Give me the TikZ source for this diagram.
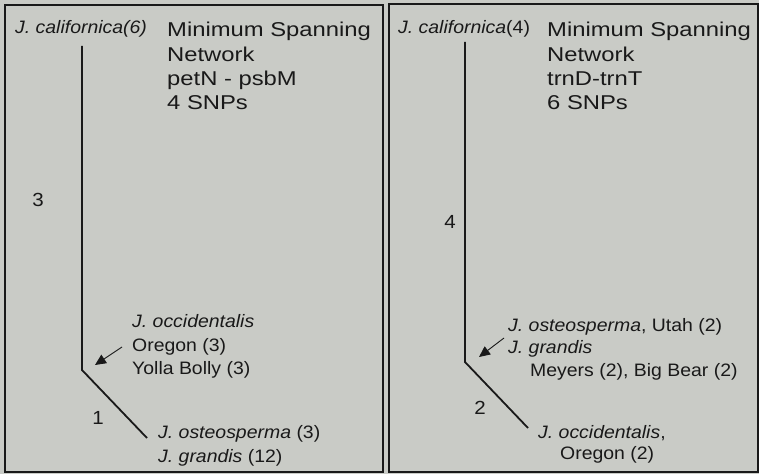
\documentclass[tikz,border=0pt]{standalone}
\usepackage{fontspec}
\setmainfont{Liberation Sans}[FakeStretch=1.08]
\newfontfamily\titlefont{Liberation Sans}[FakeStretch=1.19]
\usetikzlibrary{arrows.meta}
\definecolor{bg}{RGB}{201,203,198}
\definecolor{ink}{RGB}{25,25,25}
\tikzset{
  panel/.style={draw=ink, line width=1.6bp},
  lbl/.style={anchor=base west, inner sep=0pt, text=ink, font=\fontsize{18bp}{23bp}\selectfont},
  ttl/.style={anchor=base west, inner sep=0pt, text=ink,
    font=\titlefont\fontsize{20bp}{24.3bp}\selectfont},
  num/.style={inner sep=0pt, text=ink, font=\fontsize{19bp}{22bp}\selectfont},
  edge/.style={draw=ink, line width=1.8bp, line join=miter},
  pointer/.style={draw=ink, line width=0.9bp, -{Triangle[length=11bp,width=10bp]}}
}
\begin{document}
\begin{tikzpicture}[x=1bp,y=-1bp]
\useasboundingbox (0,0) rectangle (759,474);
\fill[bg] (0,0) rectangle (759,474);
% panels
\draw[panel] (5,5) rectangle (383,472);
\draw[panel] (389,4) rectangle (758,472);

% ---------- left panel ----------
\node[lbl] (cal1) at (15,34) {\textit{J. californica(6)}};
\node[ttl] (t1a) at (167,37) {Minimum Spanning};
\node[ttl] (t1b) at (167,61.5) {Network};
\node[ttl] (t1c) at (167,86) {petN - psbM};
\node[ttl] (t1d) at (167,110) {4 SNPs};
\coordinate (top1) at (82,46);
\coordinate (cor1) at (82,370);
\coordinate (end1) at (147,438);
\draw[edge] (top1) -- (cor1) -- (end1);
\node[num] (n3) at (38,200) {3};
\node[num] (n1) at (98,418) {1};
\node[lbl] (occ1) at (132,328) {\textit{J. occidentalis}};
\node[lbl] (ore1) at (132,352) {Oregon (3)};
\node[lbl] (yol1) at (132,375) {Yolla Bolly (3)};
\coordinate (ps1) at (122,347);
\coordinate (pe1) at (95,365);
\draw[pointer] (ps1) -- (pe1);
\node[lbl] (ost1) at (158,438) {\textit{J. osteosperma} (3)};
\node[lbl] (gra1) at (158,462) {\textit{J. grandis} (12)};

% ---------- right panel ----------
\node[lbl] (cal2) at (398,34) {\textit{J. californica}(4)};
\node[ttl] (t2a) at (547,37) {Minimum Spanning};
\node[ttl] (t2b) at (547,61.5) {Network};
\node[ttl] (t2c) at (547,86) {trnD-trnT};
\node[ttl] (t2d) at (547,110) {6 SNPs};
\coordinate (top2) at (465,42);
\coordinate (cor2) at (465,362);
\coordinate (end2) at (528,428);
\draw[edge] (top2) -- (cor2) -- (end2);
\node[num] (n4) at (450,222) {4};
\node[num] (n2) at (480,408) {2};
\node[lbl] (ost2) at (508,332) {\textit{J. osteosperma}, Utah (2)};
\node[lbl] (gra2) at (508,354) {\textit{J. grandis}};
\node[lbl] (mey2) at (530,377) {Meyers (2), Big Bear (2)};
\coordinate (ps2) at (504,338);
\coordinate (pe2) at (479,357);
\draw[pointer] (ps2) -- (pe2);
\node[lbl] (occ2) at (538,438) {\textit{J. occidentalis},};
\node[lbl] (ore2) at (560,459) {Oregon (2)};
\end{tikzpicture}
\end{document}
